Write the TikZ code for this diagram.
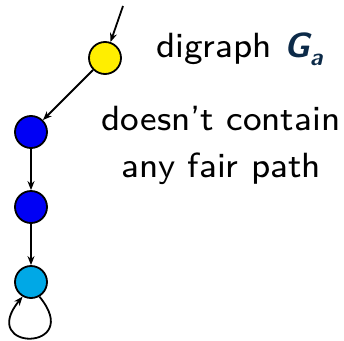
\documentclass[tikz,border=0pt]{standalone}
\usepackage{fontspec}
\usepackage{tikz}
\usetikzlibrary{arrows.meta}

\newfontfamily\slidefont[Ligatures=TeX]{lmsans8-regular.otf}

\definecolor{stateyellow}{RGB}{255,238,0}
\definecolor{stateblue}{RGB}{0,0,245}
\definecolor{statecyan}{RGB}{0,168,230}
\definecolor{graphname}{RGB}{12,42,72}

\begin{document}
\begin{tikzpicture}[x=1pt,y=-1pt]

  \tikzstyle{state}=[circle,draw,line width=1.8pt,minimum size=32pt,inner sep=0pt]
  \tikzstyle{edge}=[line width=1.8pt,-{Stealth[length=9pt,width=7pt]}]
  \tikzstyle{remark}=[font=\slidefont\fontsize{35}{47}\selectfont,inner sep=0pt]

  % ====================
  % Parameters
  % ====================
  \def\colx{31}    % x of the vertical chain
  \def\rowh{75}    % Vertical distance between the states
  % ====================

  \useasboundingbox (0,0) rectangle (344,340);

  % States
  \node (init) [state,fill=stateyellow] at (105,58) {};
  \node (s1) [state,fill=stateblue] at (\colx,132) {};
  \node (s2) [state,fill=stateblue] at (\colx,132+\rowh) {};
  \node (sink) [state,fill=statecyan] at (\colx,132+2*\rowh) {};

  % Edges
  \coordinate (start) at (123,6);
  \draw[edge] (start) -- (init);
  \draw[edge] (init) -- (s1);
  \draw[edge] (s1) -- (s2);
  \draw[edge] (s2) -- (sink);
  \draw[edge] (sink.-60) .. controls (85,352) and (-23,352) .. (sink.-120);

  % Texts
  \node (title) [remark,anchor=base west] at (156,57)
    {digraph \textcolor{graphname}{\sffamily\bfseries\slshape G\raisebox{-0.25em}{\fontsize{24}{24}\selectfont a}}};
  \node (note) [remark,align=center,anchor=base] at (221,177) {doesn't contain\\any fair path};
\end{tikzpicture}
\end{document}
